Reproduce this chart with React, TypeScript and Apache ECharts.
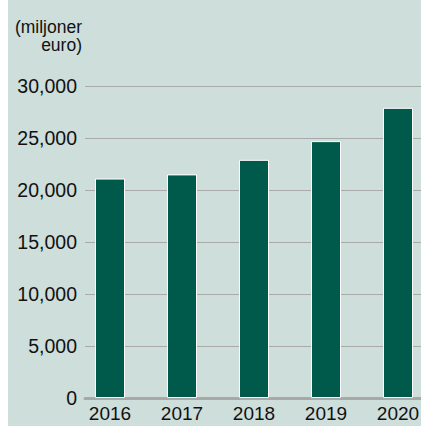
import React, { useEffect, useRef } from "react";
import * as echarts from "echarts";

const categories = ["2016", "2017", "2018", "2019", "2020"];
const values = [21100, 21500, 22900, 24700, 27900];
const yTicks = { min: 0, max: 30000, interval: 5000 };
const unitLabel = "(miljoner\neuro)";

export default function App() {
  const ref = useRef<HTMLDivElement>(null);
  useEffect(() => {
    if (!ref.current) return;
    const chart = echarts.init(ref.current, null, { renderer: "svg" });
    const font = "Liberation Sans, Arial, sans-serif";
    chart.setOption({
      animation: false,
      backgroundColor: "#cddedb",
      grid: [
        { left: 77, right: 0, top: 86, bottom: 28, containLabel: false, outerBoundsMode: "none" },
        { left: 66, width: 360, top: 86, bottom: 28, containLabel: false, outerBoundsMode: "none" },
      ],
      graphic: [
        {
          type: "text",
          x: 74,
          y: 18,
          style: {
            text: unitLabel,
            textAlign: "right",
            textVerticalAlign: "top",
            fontFamily: font,
            fontSize: 17.5,
            lineHeight: 18,
            fill: "#111",
          },
        },
      ],
      xAxis: [
        {
          type: "category",
          gridIndex: 0,
          data: categories,
          axisLine: { show: true, lineStyle: { color: "#a8a8a8", width: 3 } },
          axisTick: { show: false },
          axisLabel: { show: false },
          splitLine: { show: false },
        },
        {
          type: "category",
          gridIndex: 1,
          data: categories,
          axisLine: { show: false },
          axisTick: { show: false },
          axisLabel: {
            color: "#111",
            fontFamily: font,
            fontSize: 19,
            lineHeight: 19,
            margin: 6,
          },
        },
      ],
      yAxis: [
        {
          type: "value",
          gridIndex: 0,
          min: yTicks.min,
          max: yTicks.max,
          interval: yTicks.interval,
          axisLine: { show: false },
          axisTick: { show: false },
          axisLabel: {
            color: "#111",
            fontFamily: font,
            fontSize: 19.5,
            margin: 8,
            formatter: (v: number) => v.toLocaleString("en-US"),
          },
          splitLine: { show: true, lineStyle: { color: "#a9a9a9", width: 1.2 } },
        },
        {
          type: "value",
          gridIndex: 1,
          min: yTicks.min,
          max: yTicks.max,
          interval: yTicks.interval,
          show: false,
          splitLine: { show: false },
        },
      ],
      series: [
        {
          type: "bar",
          xAxisIndex: 1,
          yAxisIndex: 1,
          data: values,
          barWidth: 30,
          itemStyle: { color: "#005a4b", borderColor: "#ffffff", borderWidth: 1 },
        },
      ],
    });
    return () => chart.dispose();
  }, []);
  return (
    <div
      ref={ref}
      style={{ position: "absolute", left: 8, top: 0, width: 413, height: 426 }}
    />
  );
}
